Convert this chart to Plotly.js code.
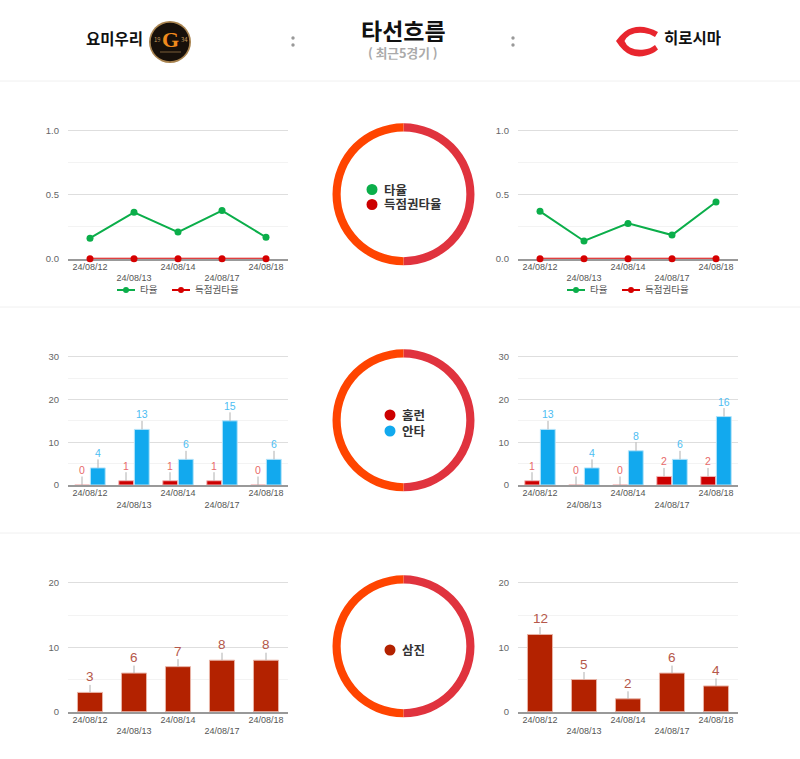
<!DOCTYPE html>
<html><head><meta charset="utf-8">
<script src="https://cdn.plot.ly/plotly-3.0.1.min.js"></script>
<style>html,body{margin:0;padding:0;background:#fff}#c{width:800px;height:759px}</style>
</head><body><div id="c"></div>
<script>
const dates = ['24/08/12','24/08/13','24/08/14','24/08/17','24/08/18'];
const tickLabels = ['24/08/12',' <br>24/08/13','24/08/14',' <br>24/08/17','24/08/18'];
const avgLeft = [0.160,0.361,0.207,0.375,0.167];
const avgRight = [0.369,0.138,0.275,0.184,0.442];
const rispLeft = [0,0,0,0,0];
const rispRight = [0,0,0,0,0];
const hrLeft = [0,1,1,1,0];
const hrRight = [1,0,0,2,2];
const hitLeft = [4,13,6,15,6];
const hitRight = [13,4,8,6,16];
const soLeft = [3,6,7,8,8];
const soRight = [12,5,2,6,4];
const ringShares = [50,50];
const avgName = '타율', rispName = '득점권타율', hrName = '홈런', hitName = '안타', soName = '삼진';

const W = 800, H = 759;
const KR = '"Noto Sans CJK KR","Noto Sans",sans-serif';
const LAT = '"Liberation Sans",Arial,sans-serif';
const GREEN = '#0BAE4A', RED = '#D60000', BLUE = '#12A9EE', BRICK = '#B32200';
const px = x => x / W, py = y => 1 - y / H;

const rows = [{top:130.3,bot:258.7,ring:194.3},{top:356.7,bot:485,ring:420.3},{top:583,bot:711.7,ring:646.3}];
const cols = [{l:68,r:288},{l:518,r:738}];
const layout = {
  width:W, height:H, margin:{l:0,r:0,t:0,b:0}, paper_bgcolor:'#fff', plot_bgcolor:'rgba(0,0,0,0)',
  showlegend:false, barmode:'group', hovermode:false, font:{family:LAT},
  shapes:[], annotations:[]
};
const data = [];

// The y range overshoots the top tick slightly so that its gridline is kept.
const OVER = 0.02;
function axes(idx, row, col, top, dtick, minor, fmt, lineLayer){
  const s = idx === 1 ? '' : idx;
  layout['xaxis'+s] = {
    domain:[px(col.l),px(col.r)], anchor:'y'+s, type:'category', categoryorder:'array', categoryarray:dates,
    tickmode:'array', tickvals:dates, ticktext:tickLabels, tickfont:{size:9,color:'#555',family:LAT},
    showline:true, linecolor:'#999', linewidth:2, showgrid:false, zeroline:false, ticks:'', fixedrange:true,
    range:[-0.5,4.5], ticklabelstandoff:-2, layer:lineLayer||'above traces'
  };
  const span = row.bot-row.top;
  layout['yaxis'+s] = {
    domain:[py(row.bot),py(row.top-span*OVER)], anchor:'x'+s, range:[0,top*(1+OVER)], tickmode:'linear', tick0:0, dtick:dtick,
    tickformat:fmt, tickfont:{size:9.5,color:'#666',family:LAT}, gridcolor:'#dedede', gridwidth:1,
    minor:{dtick:minor, showgrid:true, gridcolor:'#f3f3f3', gridwidth:1, ticks:''},
    zeroline:false, showline:false, ticks:'', ticklabelstandoff:8, fixedrange:true
  };
}
function lineTrace(idx, y, name, color){
  const s = idx === 1 ? '' : idx;
  data.push({type:'scatter', mode:'lines+markers', name, x:dates, y, xaxis:'x'+s, yaxis:'y'+s, cliponaxis:false,
    line:{color,width:2}, marker:{color,size:7}});
}
function barTrace(idx, y, name, color, tint){
  const s = idx === 1 ? '' : idx;
  data.push({type:'bar', name, x:dates, y, xaxis:'x'+s, yaxis:'y'+s,
    marker:{color, line:{color:tint,width:1}}});
}
function labels(idx, y, color, size, shift, lift){
  const s = idx === 1 ? '' : idx;
  y.forEach((v,i)=>layout.annotations.push({
    xref:'x'+s, yref:'y'+s, x:dates[i], y:v, xshift:shift, text:String(v),
    showarrow:true, arrowhead:0, arrowwidth:1, arrowcolor:'#b0b0b0', ax:0, ay:-lift, standoff:0,
    font:{family:LAT,size,color}, borderpad:0
  }));
}
function ring(row){
  const r = 71, c = 403.5, center = row.ring;
  data.push({type:'pie', values:ringShares, sort:false, direction:'clockwise', rotation:0, hole:0.885,
    textinfo:'none', hoverinfo:'skip', showlegend:false, marker:{colors:['#E0333E','#FF4400'], line:{width:0}},
    domain:{x:[px(c-r),px(c+r)], y:[py(center+r),py(center-r)]}});
}
function dot(x,y,r,color){
  layout.shapes.push({type:'circle',xref:'paper',yref:'paper',x0:px(x-r),x1:px(x+r),y0:py(y+r),y1:py(y-r),fillcolor:color,line:{width:0}});
}
function note(x,y,text,size,color,anchor,bold,family){
  layout.annotations.push({xref:'paper',yref:'paper',x:px(x),y:py(y),text:bold?'<b>'+text+'</b>':text,showarrow:false,
    xanchor:anchor||'center',yanchor:'middle',font:{family:family||KR,size,color},borderpad:0,height:Math.min(size+1,24)});
}
function hline(x0,x1,y,color,w){
  layout.shapes.push({type:'line',xref:'paper',yref:'paper',x0:px(x0),x1:px(x1),y0:py(y),y1:py(y),line:{color,width:w}});
}

// Row 1: rates
axes(1,rows[0],cols[0],1,0.5,0.25,'.1f','below traces');
axes(2,rows[0],cols[1],1,0.5,0.25,'.1f','below traces');
lineTrace(1,avgLeft,avgName,GREEN); lineTrace(1,rispLeft,rispName,RED);
lineTrace(2,avgRight,avgName,GREEN); lineTrace(2,rispRight,rispName,RED);
// Row 2: grouped bars
axes(3,rows[1],cols[0],30,10,5,'d');
axes(4,rows[1],cols[1],30,10,5,'d');
barTrace(3,hrLeft,hrName,'#CC0000','#f3b8b8'); barTrace(3,hitLeft,hitName,BLUE,'#b5e4fa');
barTrace(4,hrRight,hrName,'#CC0000','#f3b8b8'); barTrace(4,hitRight,hitName,BLUE,'#b5e4fa');
labels(3,hrLeft,'#E86A6A',10.5,-8,15); labels(3,hitLeft,'#4DBDF2',10.5,8,15);
labels(4,hrRight,'#E86A6A',10.5,-8,15); labels(4,hitRight,'#4DBDF2',10.5,8,15);
// Row 3: strikeouts
axes(5,rows[2],cols[0],20,10,5,'d');
axes(6,rows[2],cols[1],20,10,5,'d');
barTrace(5,soLeft,soName,BRICK,'#e8b3a6'); barTrace(6,soRight,soName,BRICK,'#e8b3a6');
data[data.length-1].width = 0.57; data[data.length-2].width = 0.57;
labels(5,soLeft,'#B5584A',13.5,0,15.5); labels(6,soRight,'#B5584A',13.5,0,15.5);
layout.bargap = 0.29; layout.bargroupgap = 0.05;

rows.forEach(ring);

// Separators
[81,307,533].forEach(y=>hline(0,800,y,'#f0f0f0',1));
// Header
note(114.5,38.5,'요미우리',15.5,'#111','center',true);
note(403.5,30,'타선흐름',23,'#111','center',true);
note(403,53,'( 최근5경기 )',12.7,'#aaa','center',true);
note(692.5,38,'히로시마',15.5,'#111','center',true);
[293,513].forEach(x=>{dot(x,38,1.7,'#999');dot(x,45,1.7,'#999');});
// Giants badge
dot(170,42,21,'#a8834f'); dot(170,42,19.3,'#17100a');
note(170.5,39,'G',22,'#F08A1D','center',true,'"Liberation Serif",serif');
note(157,39,'19',6,'#c99a5a','center'); note(184,39,'34',6,'#c99a5a','center');
hline(160,181,52,'#a8834f',0.7);
// Carp C
const P = (x,y)=>px(x)+','+py(y);
layout.shapes.push({type:'path',xref:'paper',yref:'paper',fillcolor:'#E8262E',line:{width:0},
  path:'M'+P(616,41)+' Q'+P(624,30)+' '+P(632,28)+' Q'+P(640,25.5)+' '+P(648,28)+' Q'+P(654,29.5)+' '+P(658,32)+
  ' L'+P(655,37)+' Q'+P(650,33.5)+' '+P(644,33)+' Q'+P(636,32)+' '+P(630,35)+' Q'+P(626,37.5)+' '+P(624.5,41)+
  ' Q'+P(626,45)+' '+P(630,47.5)+' Q'+P(636,50.5)+' '+P(644,49.5)+' Q'+P(650,49)+' '+P(655,45)+
  ' L'+P(658,49.5)+' Q'+P(653,54)+' '+P(646,55.5)+' Q'+P(638,57.5)+' '+P(631,55)+' Q'+P(623,52)+' '+P(616,41)+' Z'});
// Ring legends
dot(372,189.5,5.5,GREEN); note(383,189.5,avgName,12.5,'#333','left',true);
dot(372,204.5,5.5,'#CC0000'); note(383,204.5,rispName,12.5,'#333','left',true);
dot(390,415,5.5,'#CC0000'); note(401,415,hrName,12.5,'#333','left',true);
dot(390,431,5.5,BLUE); note(401,431,hitName,12.5,'#333','left',true);
dot(390,650,5.5,BRICK); note(401,650,soName,12.5,'#333','left',true);
// Line-chart legends
[0,450].forEach(dx=>{
  hline(117+dx,135+dx,290,GREEN,2); dot(126+dx,290,3,GREEN); note(139+dx,290,avgName,9.5,'#555','left');
  hline(172+dx,190+dx,290,RED,2); dot(181+dx,290,3,RED); note(194+dx,290,rispName,9.5,'#555','left');
});
Plotly.newPlot('c',data,layout,{staticPlot:true,displayModeBar:false});
</script></body></html>
